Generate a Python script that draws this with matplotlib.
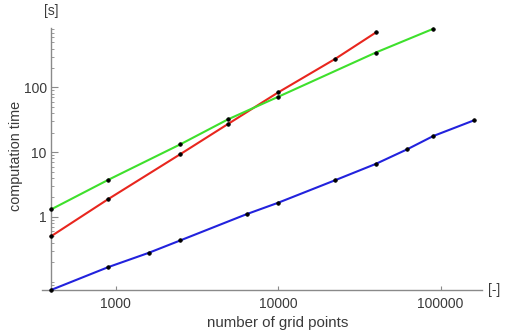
import matplotlib
matplotlib.use("Agg")
import matplotlib.pyplot as plt
from matplotlib.ticker import FixedLocator, NullFormatter, FixedFormatter, NullLocator

plt.rcParams['font.family'] = ['Liberation Sans', 'DejaVu Sans']

# grid points
x_red = [400, 900, 2500, 4900, 10000, 22500, 40000]
y_red = [0.50, 1.88, 9.3, 27.1, 83.7, 277, 708]

x_green = [400, 900, 2500, 4900, 10000, 40000, 90000]
y_green = [1.3, 3.73, 13.2, 32, 71.6, 347, 805]

x_blue = [400, 900, 1600, 2500, 6400, 10000, 22500, 40000, 62500, 90000, 160000]
y_blue = [0.074, 0.167, 0.278, 0.432, 1.10, 1.65, 3.69, 6.59, 11.1, 17.7, 30.9]

x_ticks = [1000, 10000, 100000]
x_ticklabels = ["1000", "10000", "100000"]
y_ticks = [1, 10, 100]
y_ticklabels = ["1", "10", "100"]

W, H = 509, 334
fig = plt.figure(figsize=(W / 100, H / 100), dpi=100)
ax = fig.add_axes([51 / W, 44 / H, (482 - 51) / W, (306 - 44) / H])
ax.set_xscale('log')
ax.set_yscale('log')
ax.set_xlim(400, 180000)
ax.set_ylim(0.074, 830)

axc = '#8a8a8a'
txtc = '#3a3a3a'

mk = dict(marker='o', ms=2.6, mfc='black', mec='black', mew=0.5, clip_on=False)
ax.plot(x_red, y_red, color='#e8261e', lw=1.5, zorder=3, **mk)
ax.plot(x_green, y_green, color='#3ee02c', lw=1.5, zorder=3, **mk)
ax.plot(x_blue, y_blue, color='#2222dd', lw=1.5, zorder=4, **mk)

for s in ['top', 'right']:
    ax.spines[s].set_visible(False)
for s in ['left', 'bottom']:
    ax.spines[s].set_color(axc)
    ax.spines[s].set_linewidth(1.0)
# x axis extends a bit left of the y axis
ax.plot([-9 / 431, 0], [0, 0], transform=ax.transAxes, color=axc, lw=1.0, clip_on=False)

ax.xaxis.set_major_locator(FixedLocator(x_ticks))
ax.xaxis.set_major_formatter(FixedFormatter(x_ticklabels))
ax.xaxis.set_minor_locator(NullLocator())
ax.yaxis.set_major_locator(FixedLocator(y_ticks))
ax.yaxis.set_major_formatter(FixedFormatter(y_ticklabels))
minor_y = [m * 10.0 ** e for e in range(-2, 3) for m in range(1, 10)]
minor_y = [v for v in minor_y if v not in y_ticks]
ax.yaxis.set_minor_locator(FixedLocator(minor_y))
ax.yaxis.set_minor_formatter(NullFormatter())

ax.tick_params(axis='x', which='major', direction='in', length=3, width=0.8, color=axc,
               labelsize=10, labelcolor=txtc, pad=5)
ax.tick_params(axis='y', which='major', direction='in', length=5, width=0.8, color=axc,
               labelsize=10, labelcolor=txtc, pad=3)
ax.tick_params(axis='y', which='minor', direction='in', length=2.5, width=0.6, color=axc)

fig.text(278 / W, 1 - 323 / H, "number of grid points", ha='center', va='center', fontsize=10.8, color=txtc)
fig.text(16 / W, 1 - 156 / H, "computation time", ha='center', va='center', rotation=90, fontsize=10.4, color=txtc)
fig.text(51 / W, 1 - 11 / H, "[s]", ha='center', va='center', fontsize=10, color=txtc)
fig.text(488 / W, 1 - 290 / H, "[-]", ha='left', va='center', fontsize=10, color=txtc)

fig.savefig("out.png", dpi=100)
